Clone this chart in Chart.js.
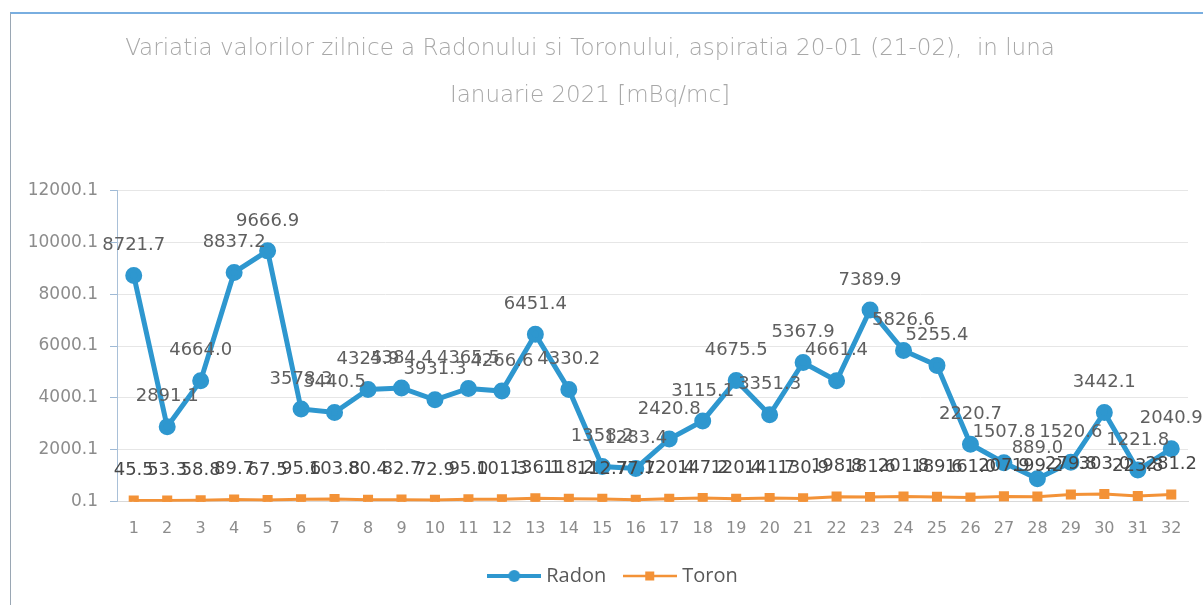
<!DOCTYPE html>
<html>
<head>
<meta charset="utf-8">
<script src="https://cdn.jsdelivr.net/npm/chart.js"></script>
<style>
  html, body { margin: 0; padding: 0; background: #fff; }
  #wrap { position: relative; width: 1203px; height: 605px; overflow: hidden; }
  #frame { position: absolute; left: 10px; top: 12px; width: 1300px; height: 700px;
           border-left: 1px solid #9aa7b4; border-top: 2px solid #79aee0; }
  #c { position: absolute; left: 0; top: 0; }
</style>
</head>
<body>
<div id="wrap">
  <div id="frame"></div>
  <canvas id="c" width="1203" height="605"></canvas>
</div>
<script>
// zilele lunii
const days = [];
for (let d = 1; d <= 32; d++) days.push(String(d));

const radon = [8721.7, 2891.1, 4664.0, 8837.2, 9666.9, 3578.3, 3440.5, 4325.9, 4384.4, 3931.3,
               4365.5, 4266.6, 6451.4, 4330.2, 1358.2, 1283.4, 2420.8, 3115.1, 4675.5, 3351.3,
               5367.9, 4661.4, 7389.9, 5826.6, 5255.4, 2220.7, 1507.8, 889.0, 1520.6, 3442.1,
               1221.8, 2040.9];

const toron = [45.5, 53.3, 58.8, 89.7, 67.5, 95.6, 103.8, 80.4, 82.7, 72.9,
               95.0, 101.3, 136.1, 118.2, 112.7, 77.7, 120.4, 147.2, 120.4, 141.7,
               130.9, 198.8, 181.6, 201.8, 189.6, 161.0, 207.9, 199.2, 279.8, 303.0,
               223.8, 281.2];

const yTicks = [0.1, 2000.1, 4000.1, 6000.1, 8000.1, 10000.1, 12000.1];

const BLUE = '#2e97cf';
const ORANGE = '#f39237';
const labelColors = ['#5f5f5f', '#474747'];

// simbol legenda: linie + marker
function legendIcon(color, square) {
    const cv = document.createElement('canvas');
    cv.width = 54; cv.height = 16;
    const g = cv.getContext('2d');
    g.strokeStyle = color;
    g.lineWidth = square ? 2.5 : 4;
    g.beginPath(); g.moveTo(0, 8); g.lineTo(54, 8); g.stroke();
    g.fillStyle = color;
    if (square) g.fillRect(22, 3.5, 9, 9);
    else { g.beginPath(); g.arc(27, 8, 6, 0, Math.PI * 2); g.fill(); }
    return cv;
}
const icons = [legendIcon(BLUE, false), legendIcon(ORANGE, true)];

// etichete de date deasupra punctelor
const valueLabels = {
    id: 'valueLabels',
    afterLayout(chart) {
        // legenda si titlul putin deplasate ca in original
        chart.legend.left += 16; chart.legend.right += 16;
        chart.titleBlock.left -= 9; chart.titleBlock.right -= 9;
    },
    afterDatasetsDraw(chart) {
        const ctx = chart.ctx;
        ctx.save();
        ctx.font = '18px "DejaVu Sans"';
        ctx.textAlign = 'center';
        ctx.textBaseline = 'middle';
        chart.data.datasets.forEach((ds, i) => {
            ctx.fillStyle = labelColors[i];
            chart.getDatasetMeta(i).data.forEach((pt, j) => {
                ctx.fillText(ds.data[j].toFixed(1), pt.x, pt.y - 30);
            });
        });
        ctx.restore();
    }
};

new Chart(document.getElementById('c'), {
    type: 'line',
    data: {
        labels: days,
        datasets: [
            {
                label: 'Radon',
                data: radon,
                borderColor: BLUE,
                backgroundColor: BLUE,
                borderWidth: 5,
                pointRadius: 6,
                pointStyle: 'circle',
                tension: 0
            },
            {
                label: 'Toron',
                data: toron,
                borderColor: ORANGE,
                backgroundColor: ORANGE,
                borderWidth: 3,
                pointRadius: 5,
                pointStyle: 'rect',
                tension: 0
            }
        ]
    },
    options: {
        responsive: false,
        animation: false,
        layout: { autoPadding: false, padding: { left: 10, right: 15, top: 0, bottom: 9 } },
        plugins: {
            title: {
                display: true,
                text: ['Variatia valorilor zilnice a Radonului si Toronului, aspiratia 20-01 (21-02),  in luna',
                       'Ianuarie 2021 [mBq/mc]'],
                color: '#a8a8a8',
                font: { family: '"DejaVu Sans"', size: 23, weight: 200, lineHeight: 2.05 },
                padding: { top: 25, bottom: 71 }
            },
            legend: {
                position: 'bottom',
                labels: {
                    usePointStyle: true,
                    pointStyleWidth: 44,
                    color: '#595959',
                    font: { family: '"Open Sans"', size: 20 },
                    padding: 22,
                    generateLabels(chart) {
                        const items = Chart.defaults.plugins.legend.labels.generateLabels(chart);
                        items.forEach((it, k) => { it.pointStyle = icons[k]; });
                        return items;
                    }
                }
            },
            tooltip: { enabled: false }
        },
        scales: {
            x: {
                offset: true,
                grid: { display: false },
                border: { display: true, color: '#d9d9d9', width: 1 },
                afterFit(scale) { scale.height -= 3; },
                ticks: { color: '#8c8c8c', font: { family: '"DejaVu Sans"', size: 16 }, padding: 9 }
            },
            y: {
                min: 0.1,
                max: 12000.1,
                afterBuildTicks(scale) { scale.ticks = yTicks.map(v => ({ value: v })); },
                afterFit(scale) { scale.width = 107; },
                grid: { color: '#e6e6e6', tickColor: '#9fbad6', tickLength: 7 },
                border: { display: true, color: '#a9c0d8', width: 1 },
                ticks: {
                    color: '#8c8c8c',
                    font: { family: '"DejaVu Sans"', size: 17 },
                    padding: 12,
                    callback: v => v.toFixed(1)
                }
            }
        }
    },
    plugins: [valueLabels]
});
</script>
</body>
</html>
